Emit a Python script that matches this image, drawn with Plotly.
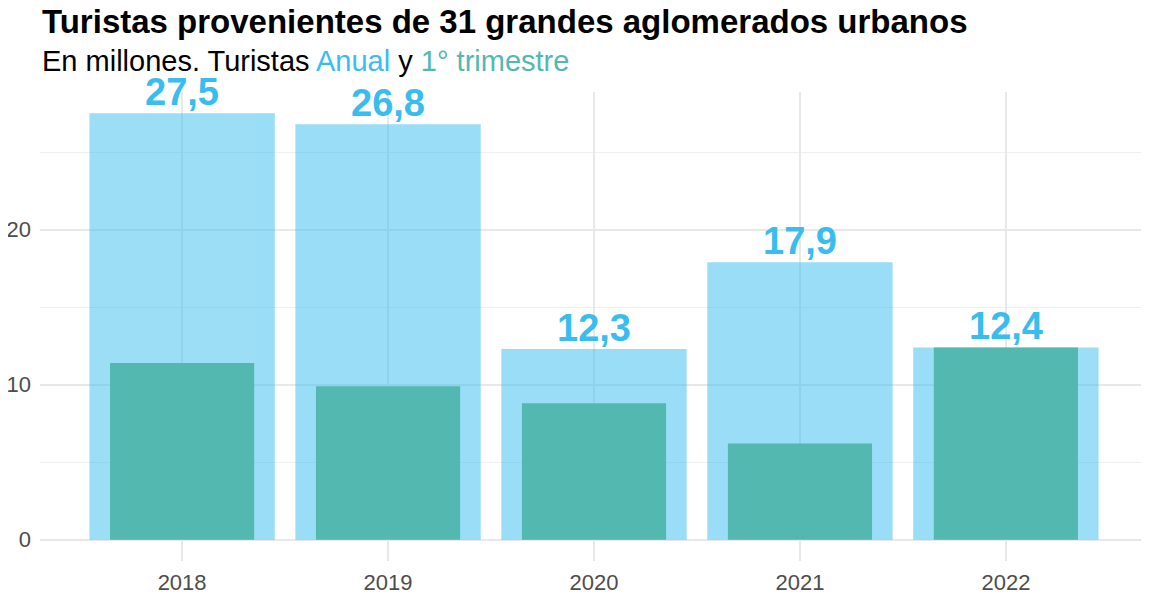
import plotly.graph_objects as go

# datos (millones de turistas)
years = ["2018", "2019", "2020", "2021", "2022"]
anual = [27.5, 26.8, 12.3, 17.9, 12.4]
trimestre1 = [11.4, 9.9, 8.8, 6.2, 12.4]

BLUE = "rgb(56,189,238)"
TEAL = "rgb(82,184,176)"
FONT = "Liberation Sans, Arial, sans-serif"

# la pagina tiene 8px de margen en el body
W, HT = 1141, 589
TOP, BOTTOM = 84, 553
H = BOTTOM - TOP


def ypix(p):
    # p en pixeles de pantalla
    return (BOTTOM - (p - 8)) / H


fig = go.Figure()

fig.add_trace(go.Bar(
    x=years, y=anual, width=0.9,
    marker=dict(color=BLUE, line_width=0), opacity=0.5,
    hoverinfo="y", name="Anual"))

fig.add_trace(go.Bar(
    x=years, y=trimestre1, width=0.7,
    marker=dict(color=TEAL, line_width=0),
    hoverinfo="y", name="1° trimestre"))

# etiquetas de valor anual (x por indice de categoria)
for i, v in enumerate(anual):
    fig.add_annotation(
        x=i, y=v, text="<b>" + f"{v:.1f}".replace(".", ",") + "</b>",
        showarrow=False, yanchor="bottom", yshift=-2,
        font=dict(family=FONT, size=38, color=BLUE))

fig.add_annotation(
    xref="paper", yref="paper", x=0, y=ypix(21), xanchor="left", yanchor="middle",
    text="<b>Turistas provenientes de 31 grandes aglomerados urbanos</b>",
    showarrow=False, font=dict(size=33, color="black", family=FONT))

fig.add_annotation(
    xref="paper", yref="paper", x=0, y=ypix(61), xanchor="left", yanchor="middle",
    text="En millones. Turistas <span style='color:" + BLUE + "'>Anual</span> y "
         "<span style='color:" + TEAL + "'>1° trimestre</span>",
    showarrow=False, font=dict(size=29, color="black", family=FONT))

fig.update_layout(
    width=W, height=HT,
    barmode="overlay",
    showlegend=False,
    plot_bgcolor="white", paper_bgcolor="white",
    margin=dict(l=32, r=1, t=TOP, b=HT - BOTTOM),
    font=dict(family=FONT),
)

fig.update_xaxes(
    type="category", range=[-0.69, 4.69],
    showgrid=True, gridcolor="#e8e8e8", gridwidth=1.5,
    showline=False, zeroline=False, ticks="",
    automargin=False, ticklabelstandoff=6,
    tickfont=dict(size=22, color="#4d4d4d"))

fig.update_yaxes(
    range=[-1.375, 28.875], dtick=10, tick0=0,
    showgrid=True, gridcolor="#e8e8e8", gridwidth=1.5,
    minor=dict(dtick=5, showgrid=True, gridcolor="#efefef", gridwidth=1.2),
    zeroline=False, showline=False, ticks="",
    automargin=False, ticklabelstandoff=8,
    tickfont=dict(size=22, color="#4d4d4d"))

fig.write_html("out.html")
